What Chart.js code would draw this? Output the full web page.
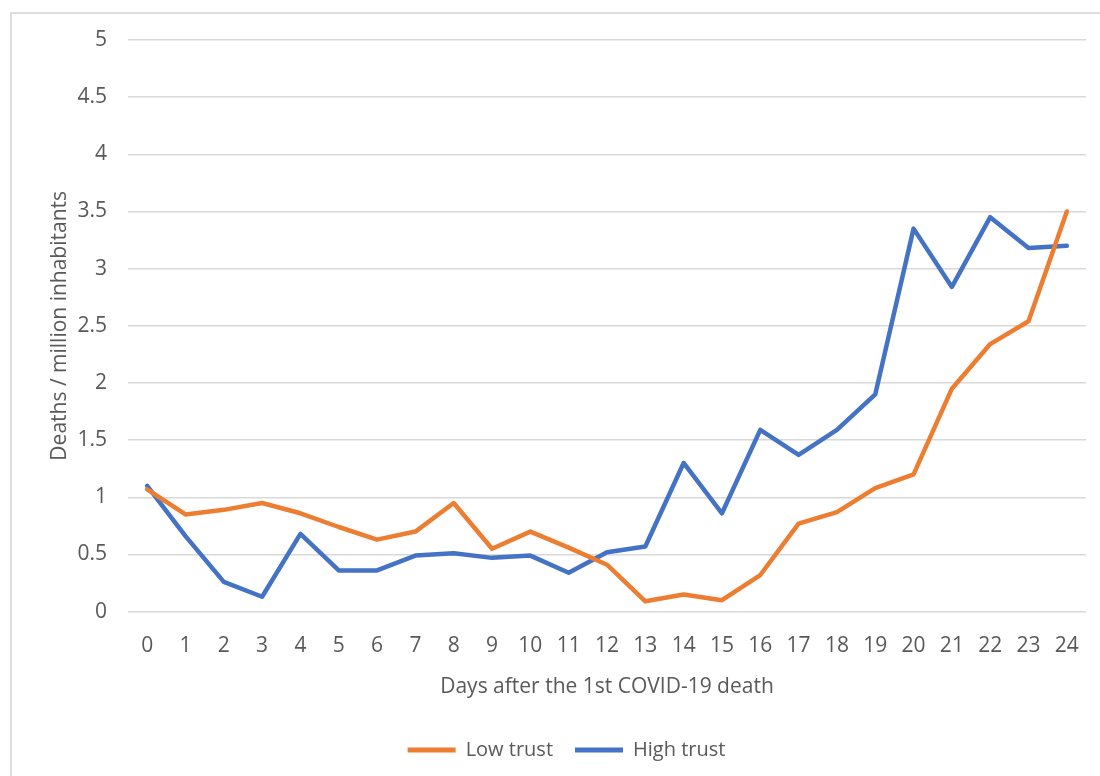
<!DOCTYPE html>
<html>
<head>
<meta charset="utf-8">
<script src="https://cdn.jsdelivr.net/npm/chart.js@4"></script>
<style>
  html, body { margin: 0; padding: 0; background: #fff; }
  #frame { position: absolute; left: 10px; top: 12px; width: 1200px; height: 900px; border: 2px solid #dedede; }
  #wrap { position: absolute; left: 0; top: 0; width: 1100px; height: 776px; }
</style>
</head>
<body>
<div id="frame"></div>
<div id="wrap"><canvas id="chart" width="1100" height="776"></canvas></div>
<script>
// days after the first death
const days = ['0','1','2','3','4','5','6','7','8','9','10','11','12','13','14','15','16','17','18','19','20','21','22','23','24'];
// deaths per million inhabitants
const lowTrust = [1.07,0.85,0.89,0.95,0.86,0.74,0.63,0.70,0.95,0.55,0.70,0.56,0.41,0.09,0.15,0.10,0.32,0.77,0.87,1.08,1.20,1.95,2.34,2.54,3.50];
const highTrust = [1.10,0.66,0.26,0.13,0.68,0.36,0.36,0.49,0.51,0.47,0.49,0.34,0.52,0.57,1.30,0.86,1.59,1.37,1.59,1.90,3.35,2.84,3.45,3.18,3.20];
const yTicks = [0,0.5,1,1.5,2,2.5,3,3.5,4,4.5,5];

const FONT = '"Open Sans", Lato, sans-serif';
const GREY = '#595959';

document.addEventListener('DOMContentLoaded', function () {
  const ctx = document.getElementById('chart');
  new Chart(ctx.getContext('2d'), {
    type: 'line',
    data: {
      labels: days,
      datasets: [
        { label: 'Low trust', data: lowTrust, borderColor: '#ed7d31', backgroundColor: '#ed7d31' },
        { label: 'High trust', data: highTrust, borderColor: '#4472c4', backgroundColor: '#4472c4' }
      ]
    },
    options: {
      responsive: false,
      animation: false,
      layout: { padding: { left: 47, right: 14, top: 40, bottom: 6 } },
      elements: {
        line: { borderWidth: 4.5, tension: 0, borderCapStyle: 'round', borderJoinStyle: 'round', fill: false },
        point: { radius: 0, hoverRadius: 0 }
      },
      plugins: {
        legend: {
          position: 'bottom',
          labels: {
            font: { family: FONT, size: 20 },
            color: GREY,
            boxWidth: 48,
            boxHeight: 5,
            padding: 22,
            generateLabels: function (chart) {
              return chart.data.datasets.map(function (ds, i) {
                return { text: ds.label, fillStyle: ds.borderColor, strokeStyle: ds.borderColor, lineWidth: 0, datasetIndex: i, fontColor: GREY };
              });
            }
          }
        },
        tooltip: { enabled: false }
      },
      scales: {
        x: {
          offset: true,
          grid: { display: false },
          border: { display: false },
          ticks: { font: { family: FONT, size: 21 }, color: GREY, padding: 14, maxRotation: 0, autoSkip: false },
          title: { display: true, text: 'Days after the 1st COVID-19 death', font: { family: FONT, size: 21 }, color: GREY, padding: { top: 2, bottom: 18 } }
        },
        y: {
          min: 0,
          max: 5,
          afterBuildTicks: function (axis) { axis.ticks = yTicks.map(function (v) { return { value: v }; }); },
          afterFit: function (axis) { axis.width = 81; },
          grid: { color: '#d9d9d9', lineWidth: 1.5, drawTicks: false },
          border: { display: false },
          ticks: { font: { family: FONT, size: 21 }, color: GREY, padding: 21, callback: function (v) { return String(v); } },
          title: { display: true, text: 'Deaths / million inhabitants', font: { family: FONT, size: 21 }, color: GREY, padding: { top: 0, bottom: 4 } }
        }
      }
    }
  });
});
</script>
</body>
</html>
